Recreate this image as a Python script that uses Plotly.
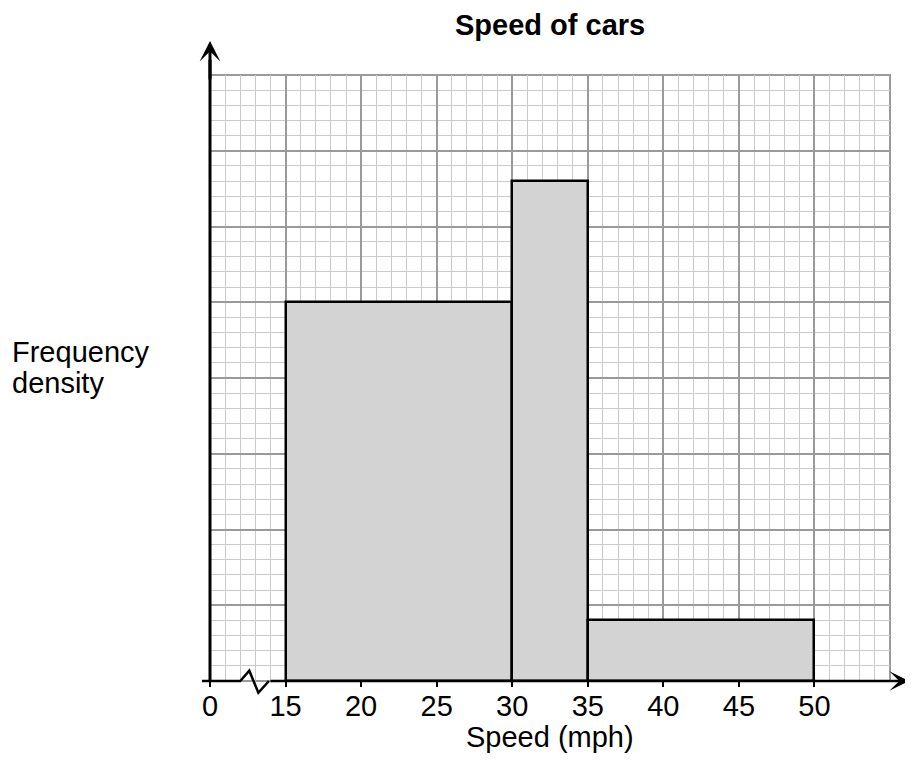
import plotly.graph_objects as go

# ---- data ----
bin_edges = [15, 30, 35, 50]          # speed class boundaries (mph)
freq_density = [5, 6.6, 0.8]          # bar heights (grid major units)
x_tick_vals = [10, 15, 20, 25, 30, 35, 40, 45, 50]
x_tick_text = ["0", "15", "20", "25", "30", "35", "40", "45", "50"]
y_tick_vals = [0, 1, 2, 3, 4, 5, 6, 7, 8]

X_RANGE = [10, 55]
Y_RANGE = [0, 8]

centers = [(a + b) / 2 for a, b in zip(bin_edges[:-1], bin_edges[1:])]
widths = [b - a for a, b in zip(bin_edges[:-1], bin_edges[1:])]

FONT = "Liberation Sans, Arial, sans-serif"
MAJOR = "#9a9a9a"
MINOR = "#cbcbcb"


def px(u):
    return (u - X_RANGE[0]) / (X_RANGE[1] - X_RANGE[0])


def py(v):
    return (v - Y_RANGE[0]) / (Y_RANGE[1] - Y_RANGE[0])


fig = go.Figure()
fig.add_trace(go.Bar(
    x=centers, y=freq_density, width=widths,
    marker=dict(color="#d3d3d3", line=dict(color="black", width=2.5)),
    hoverinfo="skip", showlegend=False,
))

W, H = 904, 767
fig.update_layout(
    width=W, height=H,
    margin=dict(l=202, r=W - 882, t=67, b=94, pad=0, autoexpand=False),
    paper_bgcolor="white", plot_bgcolor="white",
    font=dict(family=FONT, size=29, color="black"),
    showlegend=False,
    bargap=0,
    xaxis=dict(
        range=X_RANGE, tickmode="array", tickvals=x_tick_vals, ticktext=x_tick_text,
        ticks="outside", ticklen=5, tickwidth=2, tickcolor="black",
        ticklabelstandoff=-6,
        showgrid=True, gridcolor=MAJOR, gridwidth=2, zeroline=False, showline=False,
        tickfont=dict(size=29, family=FONT),
        minor=dict(tickmode="linear", tick0=10, dtick=1, showgrid=True,
                   gridcolor=MINOR, gridwidth=1, ticks=""),
        fixedrange=True,
    ),
    yaxis=dict(
        range=Y_RANGE, tickmode="array", tickvals=y_tick_vals,
        showticklabels=False, ticks="",
        showgrid=True, gridcolor=MAJOR, gridwidth=2, zeroline=False, showline=False,
        minor=dict(tickmode="linear", tick0=0, dtick=0.2, showgrid=True,
                   gridcolor=MINOR, gridwidth=1, ticks=""),
        fixedrange=True,
    ),
)

shapes = []
# grid border (right/top)
shapes.append(dict(type="rect", xref="x domain", yref="y domain", x0=0, x1=1, y0=0, y1=1,
                   line=dict(color=MAJOR, width=2), layer="below"))
# x axis line with break (zigzag)
zig_u = [9.47, 12.0, 12.6, 13.2, 13.9]
zig_v = [0, 0, 0.136, -0.155, 0]
path = "M " + " L ".join(f"{px(u):.5f},{py(v):.5f}" for u, v in zip(zig_u, zig_v))
shapes.append(dict(type="path", xref="paper", yref="paper", path=path,
                   line=dict(color="black", width=2.5)))
# y axis line
shapes.append(dict(type="line", xref="paper", yref="paper", x0=0, x1=0, y0=0, y1=py(8.2),
                   line=dict(color="black", width=3)))
fig.update_layout(shapes=shapes)

ann = []
# y axis arrow head
ann.append(dict(xref="paper", yref="paper", x=0, y=py(8.45), ax=0, ay=40,
                text="", showarrow=True, arrowhead=3, arrowwidth=3, arrowsize=1.15,
                arrowcolor="black"))
# x axis arrow
tip = 56.25
ann.append(dict(xref="paper", yref="paper", x=px(tip), y=0, ax=-(tip - 13.9) * 15.111, ay=0,
                text="", showarrow=True, arrowhead=3, arrowwidth=2.5, arrowsize=1.3,
                arrowcolor="black"))
# title
ann.append(dict(xref="paper", yref="paper", x=0.5, y=py(8.66), xanchor="center", yanchor="middle",
                text="<b>Speed of cars</b>", showarrow=False, font=dict(size=29, family=FONT)))
# x axis title
ann.append(dict(xref="paper", yref="paper", x=0.5, y=py(-0.735), xanchor="center", yanchor="middle",
                text="Speed (mph)", showarrow=False, font=dict(size=29, family=FONT)))
# y axis title
ann.append(dict(xref="paper", yref="paper", x=px(10 - 200 / 15.111), y=py(4.34), xanchor="left",
                yanchor="middle", text="Frequency", showarrow=False, font=dict(size=29, family=FONT)))
ann.append(dict(xref="paper", yref="paper", x=px(10 - 200 / 15.111), y=py(3.94), xanchor="left",
                yanchor="middle", text="density", showarrow=False, font=dict(size=29, family=FONT)))
fig.update_layout(annotations=ann)

fig.write_html("out.html")
